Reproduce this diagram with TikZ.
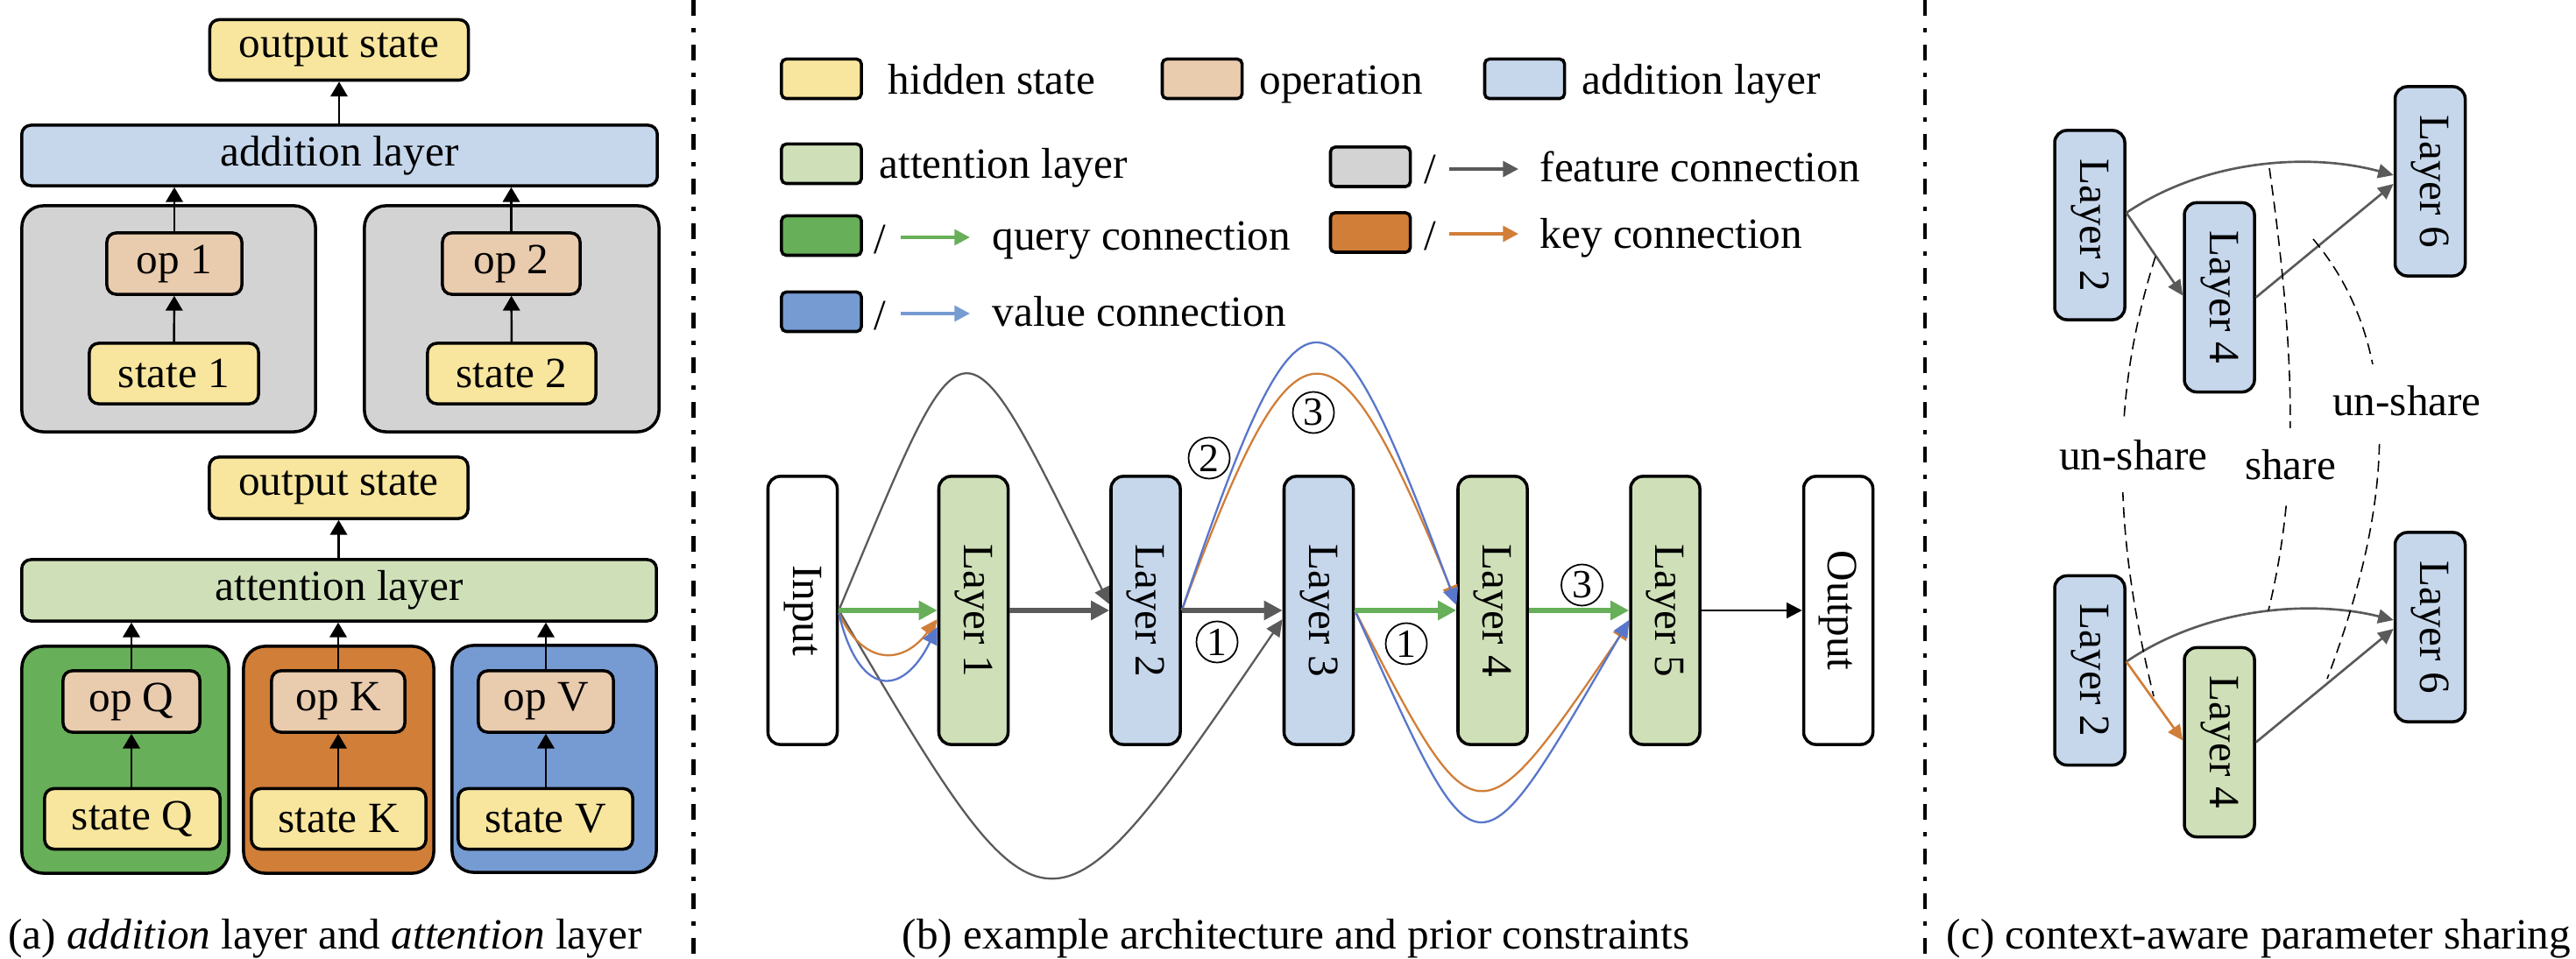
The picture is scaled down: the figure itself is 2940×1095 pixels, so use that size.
\documentclass[tikz,border=0pt]{standalone}
\usepackage{graphicx}
\usepackage{fontspec}
\setmainfont{Liberation Serif}
\usetikzlibrary{arrows.meta}
\definecolor{cYel}{RGB}{248,230,158}
\definecolor{cOp}{RGB}{233,203,174}
\definecolor{cAdd}{RGB}{198,215,236}
\definecolor{cAtt}{RGB}{207,224,184}
\definecolor{cGray}{RGB}{211,211,211}
\definecolor{cGreen}{RGB}{103,175,88}
\definecolor{cOrange}{RGB}{208,126,56}
\definecolor{cBlue}{RGB}{118,155,210}
\definecolor{aBlue}{RGB}{88,118,202}
\definecolor{aGray}{RGB}{90,90,90}
\newcommand\fs{\fontsize{14}{16.8}\selectfont}
\newcommand\rt[1]{\rotatebox{-90}{#1}}
\begin{document}
\begin{tikzpicture}[x=0.01cm,y=-0.01cm,
  bx/.style={draw=black, line width=1pt, rounded corners=3pt, inner sep=0pt, font=\fs},
  cont/.style={draw=black, line width=1pt, rounded corners=7pt, inner sep=0pt},
  sw/.style={draw=black, line width=1pt, rounded corners=1.5pt, minimum width=0.91cm, minimum height=0.45cm, inner sep=0pt},
  lay/.style={draw=black, line width=1pt, rounded corners=4pt, inner sep=0pt, font=\fs, minimum width=0.79cm, minimum height=3.06cm},
  clay/.style={draw=black, line width=1pt, rounded corners=4pt, inner sep=0pt, font=\fs, minimum width=0.8cm, minimum height=2.16cm},
  txt/.style={font=\fs, inner sep=0pt},
  aarr/.style={-{Triangle[length=4.8pt,width=5.5pt]}, line width=0.7pt, draw=black},
  tarr/.style={-{Triangle[length=6pt,width=6pt]}, line width=1.9pt},
  carr/.style={-{Triangle[length=5.5pt,width=5pt]}, line width=0.65pt},
  larr/.style={-{Triangle[length=5pt,width=5pt]}, line width=1.1pt},
  parr/.style={-{Triangle[length=5pt,width=4.6pt]}, line width=0.75pt},
  circ/.style={circle, draw=black, line width=0.5pt, minimum size=0.47cm, inner sep=0pt, font=\fontsize{13}{13}\selectfont},
  dsh/.style={draw=black, line width=0.45pt, dash pattern=on 3.5pt off 2pt},
  lbl/.style={fill=white, font=\fs, inner xsep=2pt, inner ysep=0pt, minimum height=0.84cm},
  sep/.style={draw=black, line width=1.4pt, dash pattern=on 5.1pt off 4pt on 1.4pt off 4pt}
]
\useasboundingbox (0,0) rectangle (2940,1095);

% ---------- separators
\draw[sep] (791.5,0) -- (791.5,1095);
\draw[sep] (2197,0) -- (2197,1095);

% ---------- panel (a) top
\node[cont, fill=cGray, minimum width=3.35cm, minimum height=2.58cm] (g1) at (192.5,364) {};
\node[cont, fill=cGray, minimum width=3.36cm, minimum height=2.58cm] (g2) at (584,364) {};
\node[bx, fill=cYel, minimum width=2.95cm, minimum height=0.69cm] (aout1) at (387,57) {output state};
\node[bx, fill=cAdd, minimum width=7.25cm, minimum height=0.69cm] (aadd) at (387.5,177.5) {addition layer};
\node[bx, fill=cOp, minimum width=1.54cm, minimum height=0.70cm] (op1) at (199,301) {op 1};
\node[bx, fill=cOp, minimum width=1.57cm, minimum height=0.70cm] (op2) at (583.5,301) {op 2};
\node[bx, fill=cYel, minimum width=1.93cm, minimum height=0.69cm] (st1) at (198.5,426.5) {state 1};
\node[bx, fill=cYel, minimum width=1.92cm, minimum height=0.69cm] (st2) at (584,426.5) {state 2};
\draw[aarr] (st1) -- (op1);
\draw[aarr] (st2) -- (op2);
\draw[aarr] (op1.north) -- (op1.north |- aadd.south);
\draw[aarr] (op2.north) -- (op2.north |- aadd.south);
\draw[aarr] (aadd.north -| aout1.south) -- (aout1.south);

% ---------- panel (a) bottom
\node[cont, fill=cGreen, minimum width=2.36cm, minimum height=2.59cm] (gq) at (143,867.5) {};
\node[cont, fill=cOrange, minimum width=2.17cm, minimum height=2.59cm] (gk) at (386.5,867.5) {};
\node[cont, fill=cBlue, minimum width=2.33cm, minimum height=2.59cm] (gv) at (632.5,866.5) {};
\node[bx, fill=cYel, minimum width=2.95cm, minimum height=0.70cm] (aout2) at (386.5,557) {output state};
\node[bx, fill=cAtt, minimum width=7.24cm, minimum height=0.70cm] (aatt) at (387,674) {attention layer};
\node[bx, fill=cOp, minimum width=1.56cm, minimum height=0.70cm] (opq) at (150,801) {op Q};
\node[bx, fill=cOp, minimum width=1.52cm, minimum height=0.70cm] (opk) at (386,801) {op K};
\node[bx, fill=cOp, minimum width=1.54cm, minimum height=0.70cm] (opv) at (623,801) {op V};
\node[bx, fill=cYel, minimum width=2.00cm, minimum height=0.69cm] (stq) at (151,935) {state Q};
\node[bx, fill=cYel, minimum width=1.99cm, minimum height=0.69cm] (stk) at (386.5,935) {state K};
\node[bx, fill=cYel, minimum width=1.99cm, minimum height=0.69cm] (stv) at (622.5,935) {state V};
\draw[aarr] (stq.north -| opq.south) -- (opq.south);
\draw[aarr] (stk.north -| opk.south) -- (opk.south);
\draw[aarr] (stv.north -| opv.south) -- (opv.south);
\draw[aarr] (opq.north) -- (opq.north |- aatt.south);
\draw[aarr] (opk.north) -- (opk.north |- aatt.south);
\draw[aarr] (opv.north) -- (opv.north |- aatt.south);
\draw[aarr] (aatt.north -| aout2.south) -- (aout2.south);
\node[txt, anchor=base] (capa) at (371,1083) {(a) \textit{addition} layer and \textit{attention} layer};

% ---------- panel (b) legend
\node[sw, fill=cYel] (lg1) at (937.5,90) {};
\node[txt, anchor=base west] (lt1) at (1013,108) {hidden state};
\node[sw, fill=cOp] (lg2) at (1372,90) {};
\node[txt, anchor=base west] (lt2) at (1437,108) {operation};
\node[sw, fill=cAdd] (lg3) at (1740,90) {};
\node[txt, anchor=base west] (lt3) at (1805,108) {addition layer};
\node[sw, fill=cAtt] (lg4) at (937.5,187) {};
\node[txt, anchor=base west] (lt4) at (1003,204) {attention layer};
\node[sw, fill=cGray] (lg5) at (1564,190.5) {};
\node[txt, anchor=base west] (ls5) at (1625,210) {/};
\coordinate (la5s) at (1654,193);
\coordinate (la5e) at (1733,193);
\draw[larr, draw=aGray] (la5s) -- (la5e);
\node[txt, anchor=base west] (lt5) at (1757,208) {feature connection};
\node[sw, fill=cGreen] (lg6) at (937.5,269) {};
\node[txt, anchor=base west] (ls6) at (997,290) {/};
\coordinate (la6s) at (1028,271);
\coordinate (la6e) at (1107,271);
\draw[larr, draw=cGreen] (la6s) -- (la6e);
\node[txt, anchor=base west] (lt6) at (1132,286) {query connection};
\node[sw, fill=cOrange] (lg7) at (1564,265.5) {};
\node[txt, anchor=base west] (ls7) at (1625,286) {/};
\coordinate (la7s) at (1654,267);
\coordinate (la7e) at (1733,267);
\draw[larr, draw=cOrange] (la7s) -- (la7e);
\node[txt, anchor=base west] (lt7) at (1757,284) {key connection};
\node[sw, fill=cBlue] (lg8) at (937.5,356) {};
\node[txt, anchor=base west] (ls8) at (997,377) {/};
\coordinate (la8s) at (1028,358);
\coordinate (la8e) at (1107,358);
\draw[larr, draw=cBlue] (la8s) -- (la8e);
\node[txt, anchor=base west] (lt8) at (1132,373) {value connection};

% ---------- panel (b) diagram
\node[lay, fill=white] (IN) at (916,697) {\rt{Input}};
\node[lay, fill=cAtt] (L1) at (1111,697) {\rt{Layer 1}};
\node[lay, fill=cAdd] (L2) at (1307.5,697) {\rt{Layer 2}};
\node[lay, fill=cAdd] (L3) at (1505,697) {\rt{Layer 3}};
\node[lay, fill=cAtt] (L4) at (1703.5,697) {\rt{Layer 4}};
\node[lay, fill=cAtt] (L5) at (1900.5,697) {\rt{Layer 5}};
\node[lay, fill=white] (OUT) at (2098,697) {\rt{Output}};

% gray skip curves
\draw[carr, draw=aGray] (IN.east) .. controls (1107,340) and (1092,340) .. ([yshift=0.07cm]L2.west);
\draw[carr, draw=aGray] (IN.east) .. controls (1195,1101) and (1195,1101) .. ([yshift=-0.1cm]L3.west);
% orange / blue Input -> Layer 1
\draw[carr, draw=cOrange] ([yshift=-0.03cm]IN.east) .. controls (985,760) and (1030,760) .. ([yshift=-0.1cm]L1.west);
\draw[carr, draw=aBlue] ([yshift=-0.03cm]IN.east) .. controls (980,797) and (1030,797) .. ([yshift=-0.19cm]L1.west);
% Layer 2 -> Layer 4 top curves
\draw[carr, draw=cOrange] (L2.east) .. controls (1480,341) and (1520,341) .. ([yshift=0.09cm]L4.west);
\draw[carr, draw=aBlue] (L2.east) .. controls (1485,293) and (1515,293) .. ([yshift=0.06cm]L4.west);
% Layer 3 -> Layer 5 bottom curves
\draw[carr, draw=cOrange] (L3.east) .. controls (1685,967) and (1685,967) .. ([yshift=-0.14cm]L5.west);
\draw[carr, draw=aBlue] (L3.east) .. controls (1690,1015) and (1680,1015) .. ([yshift=-0.11cm]L5.west);
% straight connections
\draw[tarr, draw=cGreen] (IN.east) -- (L1.west);
\draw[tarr, draw=aGray] (L1.east) -- (L2.west);
\draw[tarr, draw=aGray] (L2.east) -- (L3.west);
\draw[tarr, draw=cGreen] (L3.east) -- (L4.west);
\draw[tarr, draw=cGreen] (L4.east) -- (L5.west);
\draw[-{Triangle[length=5pt,width=5pt]}, line width=0.7pt] (L5.east) -- (OUT.west);
% circled numbers
\node[circ] (n1a) at (1389,733) {1};
\node[circ] (n2) at (1380,523) {2};
\node[circ] (n3a) at (1499,471) {3};
\node[circ] (n1b) at (1605,735) {1};
\node[circ] (n3b) at (1805.5,668) {3};
\node[txt, anchor=base] (capb) at (1479,1083) {(b) example architecture and prior constraints};

% ---------- panel (c)
\node[clay, fill=cAdd] (T2) at (2385,257) {\rt{Layer 2}};
\node[clay, fill=cAdd] (T4) at (2533,339.5) {\rt{Layer 4}};
\node[clay, fill=cAdd] (T6) at (2773.5,207) {\rt{Layer 6}};
\node[clay, fill=cAdd] (B2) at (2385,765.5) {\rt{Layer 2}};
\node[clay, fill=cAtt] (B4) at (2533,847.5) {\rt{Layer 4}};
\node[clay, fill=cAdd] (B6) at (2773.5,716) {\rt{Layer 6}};

\draw[parr, draw=aGray] ([yshift=0.14cm]T2.east) .. controls (2520,180) and (2640,175) .. ([yshift=0.07cm]T6.west);
\draw[parr, draw=aGray] ([yshift=0.14cm]T2.east) -- ([yshift=0.02cm]T4.west);
\draw[parr, draw=aGray] (T4.east) -- ([yshift=-0.03cm]T6.west);
\draw[parr, draw=aGray] ([yshift=0.1cm]B2.east) .. controls (2520,692) and (2640,685) .. ([yshift=0.08cm]B6.west);
\draw[parr, draw=cOrange] ([yshift=0.1cm]B2.east) -- ([yshift=0.02cm]B4.west);
\draw[parr, draw=aGray] (B4.east) -- ([yshift=-0.02cm]B6.west);

% dashed separators between contexts
\draw[dsh] (2460,293) .. controls (2410,450) and (2410,600) .. (2458,795);
\draw[dsh] (2590,192) .. controls (2622,420) and (2622,560) .. (2589,697);
\draw[dsh] (2640,273) .. controls (2730,380) and (2745,540) .. (2656,775);
\node[lbl] (u1) at (2435,520) {un-share};
\node[lbl] (sh) at (2614,531) {share};
\node[lbl] (u2) at (2747,458) {un-share};
\node[txt, anchor=base] (capc) at (2578,1083) {(c) context-aware parameter sharing};
\end{tikzpicture}
\end{document}
